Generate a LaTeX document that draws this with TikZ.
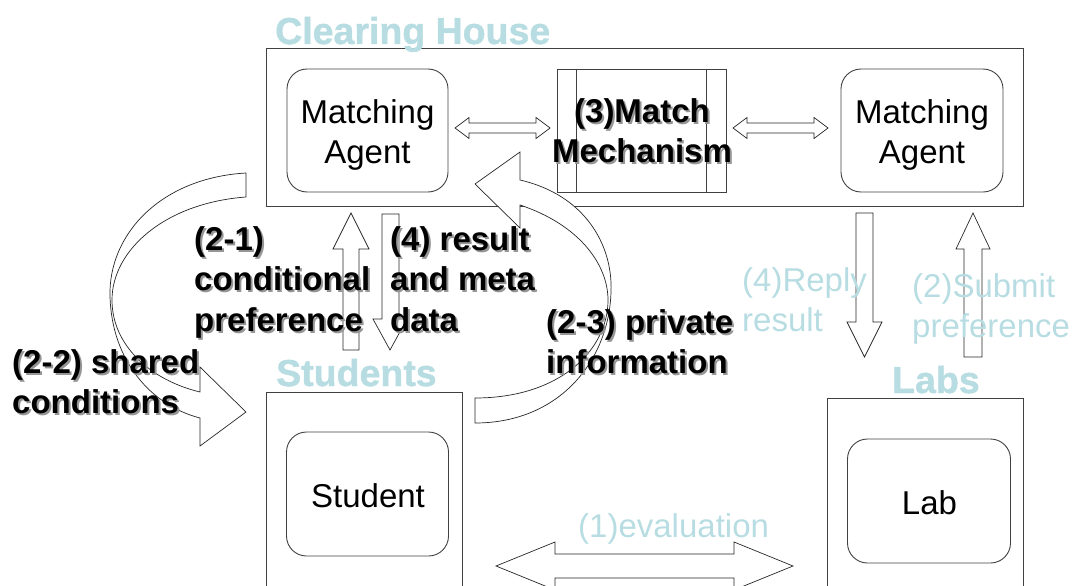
\documentclass[tikz,border=0pt]{standalone}
\usepackage{fontspec}
\setmainfont{Liberation Sans}
\newfontfamily\titlefont[FakeBold=1.2]{Liberation Sans Bold}
\definecolor{titleblue}{RGB}{183,221,226}
\definecolor{shadowgray}{RGB}{150,150,150}
\definecolor{linegray}{RGB}{64,64,64}

% bold black label with a soft drop shadow, first baseline at #2
\newcommand\boldlabel[3]{%
  \node[boldtxt, text=shadowgray, xshift=2pt, yshift=-2pt] (#1-shadow) at (#2)
    {\begin{tabular}[t]{@{}l@{}}#3\end{tabular}};
  \node[boldtxt] (#1) at (#2) {\begin{tabular}[t]{@{}l@{}}#3\end{tabular}};}
% centred multi-line text, first baseline at the given point
\newcommand\ctext[1]{\begin{tabular}[t]{@{}c@{}}#1\end{tabular}}

\begin{document}
\begin{tikzpicture}[x=1pt,y=-1pt,
  box/.style={draw=linegray, line width=0.9pt, inner sep=0pt},
  agent/.style={box, rounded corners=20pt, minimum width=161pt, minimum height=123pt},
  agenttxt/.style={font=\fontsize{33}{40}\selectfont, inner sep=0pt, anchor=base},
  blockarrow/.style={draw=black!85, line width=0.7pt, fill=white, line join=miter},
  bluetxt/.style={text=titleblue, font=\fontsize{33}{40.5}\selectfont, inner sep=0pt, anchor=base west},
  titletxt/.style={text=titleblue, font=\fontsize{37.5}{40}\titlefont, inner sep=0pt, anchor=base west},
  boldtxt/.style={font=\fontsize{33}{40.5}\selectfont\bfseries, inner sep=0pt, anchor=base west},
  mechtxt/.style={font=\fontsize{33}{40}\selectfont\bfseries, inner sep=0pt, anchor=base},
]
\useasboundingbox (0,0) rectangle (1073,586);
\clip (0,0) rectangle (1073,586);

% ---- containers ----
\node[box, minimum width=757pt, minimum height=158pt] (ch) at (644.5,127) {};
\node[box, minimum width=196pt, minimum height=220pt] (stbox) at (364,502) {};
\node[box, minimum width=196pt, minimum height=220pt] (labbox) at (925,508) {};

% ---- inner nodes ----
\node[agent] (maL) at (367.5,130.5) {};
\node[agent, minimum width=162pt] (maR) at (922,130.5) {};
\node[agent, minimum width=162pt, minimum height=124pt] (stu) at (367.5,494) {};
\node[agent, minimum width=163pt, minimum height=124pt] (lab) at (929,501) {};
\node[agenttxt] (maL-text) at (367.5,123) {\ctext{Matching\\Agent}};
\node[agenttxt] (maR-text) at (922,123) {\ctext{Matching\\Agent}};
\node[agenttxt] (stu-text) at (368,507) {Student};
\node[agenttxt] (lab-text) at (929.5,514) {Lab};

\node[box, minimum width=169pt, minimum height=123pt] (mm) at (641.5,130.5) {};
\draw[box] ([xshift=20pt]mm.north west) -- ([xshift=20pt]mm.south west);
\draw[box] ([xshift=-20pt]mm.north east) -- ([xshift=-20pt]mm.south east);

% ---- block arrows ----
% agent <-> mechanism
\draw[blockarrow] (455,128) -- (469,117.5) -- (469,123) -- (536,123) -- (536,117.5) -- (550,128)
  -- (536,138.5) -- (536,133) -- (469,133) -- (469,138.5) -- cycle;
\draw[blockarrow] (733,128) -- (747,117.5) -- (747,123) -- (814,123) -- (814,117.5) -- (828,128)
  -- (814,138.5) -- (814,133) -- (747,133) -- (747,138.5) -- cycle;
% students <-> clearing house
\draw[blockarrow] (351,213) -- (369,249) -- (359,249) -- (359,350) -- (343,350) -- (343,249) -- (333,249) -- cycle;
\draw[blockarrow] (382,214) -- (399,214) -- (399,319) -- (407,319) -- (390,350) -- (373,319) -- (382,319) -- cycle;
% labs <-> clearing house
\draw[blockarrow] (856,213) -- (873,213) -- (873,322) -- (882,322) -- (864.5,357) -- (847,322) -- (856,322) -- cycle;
\draw[blockarrow] (973,213) -- (990,249) -- (982,249) -- (982,357) -- (964,357) -- (964,249) -- (956,249) -- cycle;
% students <-> labs
\draw[blockarrow] (496,566) -- (555,542) -- (555,554) -- (734,554) -- (734,542) -- (793,566)
  -- (734,590) -- (734,578) -- (555,578) -- (555,590) -- cycle;
% curved arrow: shared conditions
\draw[blockarrow] (246,173) .. controls (160,178) and (108,235) .. (110,297)
  .. controls (112,360) and (150,405) .. (200,418) -- (200,446) -- (246,412) -- (200,367) -- (200,392)
  .. controls (150,380) and (112,345) .. (112,300) .. controls (112,250) and (165,203) .. (246,197) -- cycle;
% curved arrow: private information
\draw[blockarrow] (475,423) .. controls (560,423) and (609,360) .. (611,292)
  .. controls (613,245) and (585,195) .. (520,180) -- (520,152) -- (475,184) -- (520,228) -- (520,205)
  .. controls (580,225) and (608,265) .. (608,300) .. controls (608,350) and (560,398) .. (475,398) -- cycle;

% ---- mechanism label ----
\node[mechtxt, text=shadowgray, xshift=2pt, yshift=-2pt] (mmS) at (642,122) {\ctext{(3)Match\\Mechanism}};
\node[mechtxt] (mmT) at (642,122) {\ctext{(3)Match\\Mechanism}};

% ---- titles ----
\node[titletxt] (chT) at (275,44) {Clearing House};
\node[titletxt] (stT) at (276,386) {Students};
\node[titletxt] (labT) at (892,393) {Labs};

% ---- step labels ----
\boldlabel{l21}{194,250}{(2-1)\\conditional\\preference}
\boldlabel{l4}{390,250}{(4) result\\and meta\\data}
\boldlabel{l23}{546,333}{(2-3) private\\information}
\boldlabel{l22}{12,373}{(2-2) shared\\conditions}

\node[bluetxt] (reply) at (742,291) {\begin{tabular}[t]{@{}l@{}}(4)Reply\\result\end{tabular}};
\node[bluetxt] (submit) at (912,297) {\begin{tabular}[t]{@{}l@{}}(2)Submit\\preference\end{tabular}};
\node[bluetxt] (eval) at (578,537) {(1)evaluation};
\end{tikzpicture}
\end{document}
